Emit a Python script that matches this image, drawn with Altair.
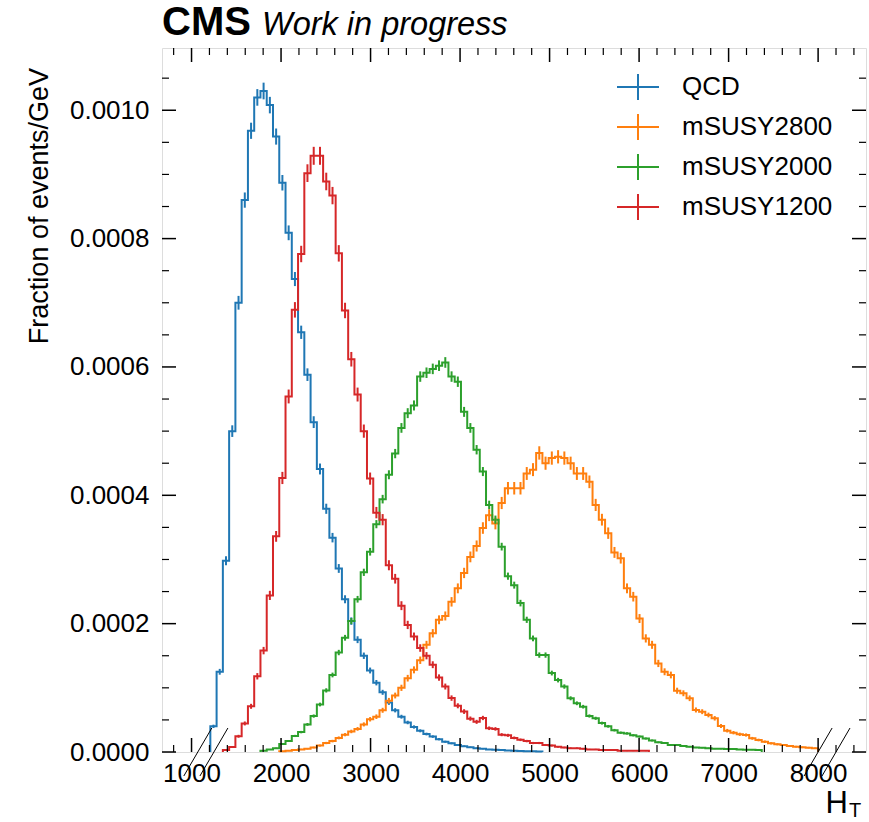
import altair as alt
import pandas as pd

# ---------------- data ----------------
bin_low = 1000          # lower edge of the first histogram bin (GeV)
bin_width = 70          # histogram bin width (GeV)

series_names = ["QCD", "mSUSY2800", "mSUSY2000", "mSUSY1200"]
series_colors = ["#1f77b4", "#ff7f0e", "#2ca02c", "#d62728"]

# index of the first filled bin of each series, then the bin contents (fraction of events / GeV)
qcd_first_bin = 3
qcd_values = [
    0.00004, 0.000125, 0.000298, 0.0005, 0.0007, 0.00086, 0.000968, 0.00102, 0.00103, 0.001008,
    0.000959, 0.000887, 0.000809, 0.000737, 0.000654, 0.000588, 0.000514, 0.000441, 0.000379, 0.000334,
    0.000286, 0.000238, 0.000204, 0.000175, 0.00015, 0.000127, 0.000108, 0.000093, 0.000077, 0.000065,
    0.000055, 0.000046, 0.000039, 0.000033, 0.000028, 0.000024, 0.00002, 0.000016, 0.0000135, 0.000011,
    0.000009, 0.0000075, 0.000006, 0.000005, 0.000004, 0.0000035, 0.000003, 0.0000025, 0.000002, 0.0000015,
    0.0000012, 0.000001, 0.0000008,
]

m2800_first_bin = 14
m2800_values = [
    0.000001, 0.000002, 0.000003, 0.000004, 0.000005, 0.000007, 0.00001, 0.000014, 0.000017, 0.000022,
    0.000027, 0.000032, 0.000036, 0.000043, 0.000051, 0.000055, 0.000065, 0.00008, 0.000088, 0.0001,
    0.000115, 0.000128, 0.000143, 0.000167, 0.000185, 0.000206, 0.000212, 0.000234, 0.000255, 0.000279,
    0.000304, 0.000321, 0.000349, 0.000369, 0.000356, 0.000388, 0.000411, 0.000411, 0.000411, 0.000434,
    0.00044, 0.000466, 0.00045, 0.000458, 0.00046, 0.000458, 0.00045, 0.000434, 0.000434, 0.000421,
    0.000385, 0.000362, 0.000341, 0.000311, 0.000302, 0.000255, 0.000242, 0.000208, 0.000177, 0.000167,
    0.000138, 0.000125, 0.00012, 0.0000955, 0.0000915, 0.0000837, 0.0000655, 0.0000628, 0.0000577, 0.0000525,
    0.0000405, 0.0000332, 0.0000301, 0.0000276, 0.0000265, 0.0000213, 0.0000187, 0.000016, 0.0000135, 0.000012,
    0.0000109, 0.0000094, 0.0000083, 0.0000073, 0.0000068, 0.0000058,
]

m2000_first_bin = 11
m2000_values = [
    0.000002, 0.000004, 0.000006, 0.0000125, 0.000017, 0.000025, 0.000031, 0.000043, 0.000056, 0.000074,
    0.000096, 0.00012, 0.000155, 0.000178, 0.000204, 0.000238, 0.00028, 0.000312, 0.000355, 0.000394,
    0.000432, 0.000465, 0.000505, 0.000528, 0.00054, 0.000585, 0.000591, 0.000597, 0.000602, 0.000607,
    0.000585, 0.000577, 0.00053, 0.000505, 0.000471, 0.000437, 0.000385, 0.000362, 0.00032, 0.000274,
    0.00026, 0.000232, 0.000206, 0.000177, 0.000151, 0.000151, 0.000123, 0.000112, 0.000102, 0.0000837,
    0.0000759, 0.0000706, 0.0000561, 0.0000525, 0.000045, 0.00004, 0.000034, 0.00003, 0.000029, 0.000026,
    0.000024, 0.000021, 0.000018, 0.000015, 0.000014, 0.000011, 0.000011, 0.0000093, 0.0000083, 0.000007,
    0.0000065, 0.000006, 0.0000052, 0.000005, 0.0000047, 0.0000045, 0.000004, 0.0000036, 0.0000035, 0.000003,
]

m1200_first_bin = 5
m1200_values = [
    0.000003, 0.0000078, 0.0000245, 0.0000445, 0.0000712, 0.000118, 0.000158, 0.000244, 0.000336, 0.000427,
    0.000554, 0.000689, 0.000776, 0.000902, 0.000929, 0.000929, 0.000889, 0.000867, 0.000777, 0.000688,
    0.000612, 0.000557, 0.0005, 0.000426, 0.000373, 0.000362, 0.000291, 0.00027, 0.000228, 0.000198,
    0.00018, 0.000162, 0.00015, 0.000136, 0.000116, 0.000102, 0.000084, 0.000072, 0.000063, 0.000052,
    0.000047, 0.000053, 0.000037, 0.000036, 0.000027, 0.000026, 0.000022, 0.000019, 0.000017, 0.000014,
    0.000014, 0.000011, 0.00001, 0.000008, 0.000007, 0.000006, 0.000006, 0.000005, 0.000004, 0.000004,
    0.000003, 0.000003, 0.000003, 0.000002, 0.000002, 0.000002, 0.000002, 0.000002,
]

# half-height of the statistical error bar on the highest bin of each series
peak_errors = [0.000013, 0.0000104, 0.0000083, 0.000014]

# axis ticks
x_major = [1000, 2000, 3000, 4000, 5000, 6000, 7000, 8000]
x_minor = [800, 1200, 1400, 1600, 1800, 2200, 2400, 2600, 2800, 3200, 3400, 3600, 3800,
           4200, 4400, 4600, 4800, 5200, 5400, 5600, 5800, 6200, 6400, 6600, 6800,
           7200, 7400, 7600, 7800, 8200, 8400]
y_major = [0.0, 0.0002, 0.0004, 0.0006, 0.0008, 0.0010]
y_minor = [0.00005, 0.0001, 0.00015, 0.00025, 0.0003, 0.00035, 0.00045, 0.0005, 0.00055,
           0.00065, 0.0007, 0.00075, 0.00085, 0.0009, 0.00095, 0.00105]
x_domain = [670, 8535]
y_domain = [0.0, 0.001097]
flow_marks = [1070, 1250, 8000, 8200]   # "//" under/overflow markers on the x axis

cms_text = "CMS"
status_text = "Work in progress"
y_title = "Fraction of events/GeV"
x_title_main = "H"
x_title_sub = "T"

# ---------------- build tables ----------------
W, H = 704, 704
firsts = [qcd_first_bin, m2800_first_bin, m2000_first_bin, m1200_first_bin]
values = [qcd_values, m2800_values, m2000_values, m1200_values]

line_rows, err_rows = [], []
for name, first, vals, perr in zip(series_names, firsts, values, peak_errors):
    vpk = max(vals)
    lo_edge = bin_low + first * bin_width
    hi_edge = lo_edge + len(vals) * bin_width
    o = 0
    line_rows.append(dict(series=name, x=lo_edge, y=0.0, o=o)); o += 1
    for i, v in enumerate(vals):
        e = lo_edge + i * bin_width
        line_rows.append(dict(series=name, x=e, y=v, o=o)); o += 1
        half = perr * (v / vpk) ** 0.5
        err_rows.append(dict(series=name, x=e + bin_width / 2, lo=v - half, hi=v + half))
    line_rows.append(dict(series=name, x=hi_edge, y=vals[-1], o=o)); o += 1
    line_rows.append(dict(series=name, x=hi_edge, y=0.0, o=o))

lines_df = pd.DataFrame(line_rows)
err_df = pd.DataFrame(err_rows)

xs = alt.Scale(domain=x_domain, nice=False, zero=False)
ys = alt.Scale(domain=y_domain, nice=False, zero=False)
x_axis = alt.Axis(
    values=x_major, format="d", labelFontSize=26, labelFont="Liberation Sans",
    labelColor="black", ticks=False, tickSize=0, domain=False, grid=False,
    title=None, labelPadding=8, labelFlush=False, labelOverlap=False)
y_axis = alt.Axis(
    values=y_major, format=".4f", labelFontSize=26, labelFont="Liberation Sans",
    labelColor="black", ticks=False, tickSize=0, domain=False, grid=False,
    title=None, labelPadding=13, labelFlush=False, labelOverlap=False)

color_scale = alt.Scale(domain=series_names, range=series_colors)
color = alt.Color(
    "series:N",
    scale=color_scale,
    legend=alt.Legend(
        title=None, orient="none", legendX=454, legendY=17,
        symbolType="M-1,0H1M0,-0.62V0.62", symbolSize=1764, symbolStrokeWidth=2,
        symbolFillColor="transparent",
        labelFontSize=26, labelFont="Liberation Sans", labelColor="black",
        labelOffset=22, rowPadding=0, padding=0, labelLimit=400,
    ),
)

lines = alt.Chart(lines_df).mark_line(interpolate="step-after", strokeWidth=2).encode(
    x=alt.X("x:Q", scale=xs, axis=x_axis),
    y=alt.Y("y:Q", scale=ys, axis=y_axis),
    color=color,
    order=alt.Order("o:Q"),
)

errbars = alt.Chart(err_df).mark_rule(strokeWidth=2).encode(
    x=alt.X("x:Q", scale=xs, axis=x_axis),
    y=alt.Y("lo:Q", scale=ys, axis=y_axis),
    y2="hi:Q",
    color=alt.Color("series:N", scale=color_scale, legend=None),
)

def xticks(vals, length, width):
    df = pd.DataFrame({"v": vals})
    bottom = alt.Chart(df).mark_rule(color="black", strokeWidth=width).encode(
        x=alt.X("v:Q", scale=xs, axis=x_axis), y=alt.value(H), y2=alt.value(H - length))
    top = alt.Chart(df).mark_rule(color="black", strokeWidth=width).encode(
        x=alt.X("v:Q", scale=xs, axis=x_axis), y=alt.value(0), y2=alt.value(length))
    return [bottom, top]

def yticks(vals, length, width):
    df = pd.DataFrame({"v": vals})
    left = alt.Chart(df).mark_rule(color="black", strokeWidth=width).encode(
        y=alt.Y("v:Q", scale=ys, axis=y_axis), x=alt.value(0), x2=alt.value(length))
    right = alt.Chart(df).mark_rule(color="black", strokeWidth=width).encode(
        y=alt.Y("v:Q", scale=ys, axis=y_axis), x=alt.value(W), x2=alt.value(W - length))
    return [left, right]

tick_layers = (xticks(x_major, 14, 1.5) + xticks(x_minor, 7, 1.2)
               + yticks(y_major, 14, 1.5) + yticks(y_minor, 7, 1.2))

flow = alt.Chart(pd.DataFrame({"v": flow_marks})).mark_rule(
    color="black", strokeWidth=1, xOffset=-14, x2Offset=14).encode(
    x=alt.X("v:Q", scale=xs, axis=x_axis), x2="v:Q",
    y=alt.value(H + 24), y2=alt.value(H - 24))

def label(text, x, y, **kw):
    return alt.Chart(pd.DataFrame({"t": [text]})).mark_text(**kw).encode(
        text="t:N", x=alt.value(x), y=alt.value(y))

texts = [
    label(cms_text, 0, -13, font="Liberation Sans", fontWeight="bold", fontSize=40,
          align="left", baseline="alphabetic", color="black"),
    label(status_text, 100, -13, font="Liberation Sans", fontStyle="italic", fontSize=32.5,
          align="left", baseline="alphabetic", color="black"),
    label(y_title, -122, 20, font="Liberation Sans",
          fontSize=27, angle=270, align="right", baseline="middle", color="black"),
    label(x_title_main, 686, 765, font="Liberation Sans",
          fontSize=31, align="right", baseline="alphabetic", color="black"),
    label(x_title_sub, 687, 769, font="Liberation Sans",
          fontSize=20, align="left", baseline="alphabetic", color="black"),
]

chart = alt.layer(lines, errbars, *tick_layers, flow, *texts).properties(
    width=W, height=H,
    autosize="none",
    padding={"left": 162, "top": 48, "right": 3, "bottom": 70},
).configure_view(stroke="black", strokeWidth=2.5).configure(font="Liberation Sans")

chart.save("out.html", embed_options={"renderer": "svg", "actions": False})
